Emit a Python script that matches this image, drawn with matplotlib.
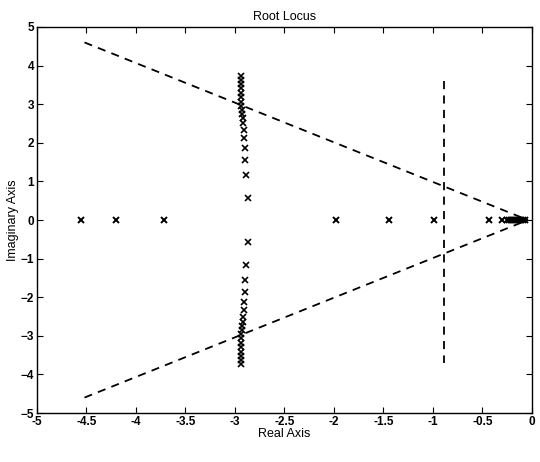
import matplotlib
matplotlib.use("Agg")
import matplotlib.pyplot as plt

plt.rcParams['font.family'] = ['Liberation Sans', 'DejaVu Sans']

# Real-axis roots
real_x = [-4.56, -4.20, -3.72, -1.98, -1.44, -0.99, -0.43, -0.30,
          -0.25, -0.23, -0.21, -0.19, -0.17, -0.15, -0.13, -0.11, -0.09, -0.07]
# Complex branch near Re = -2.9
branch_y = [3.73, 3.63, 3.52, 3.42, 3.29, 3.19, 3.06, 2.95, 2.85, 2.75,
            2.64, 2.51, 2.33, 2.12, 1.87, 1.55, 1.17, 0.57]
branch_x = [-2.94, -2.94, -2.94, -2.94, -2.94, -2.94, -2.94, -2.94, -2.93, -2.93,
            -2.92, -2.92, -2.91, -2.91, -2.90, -2.90, -2.89, -2.87]

# Asymptotes and vertical guide
asym_x = [-4.52, -0.04]
asym_upper_y = [4.6, 0.0]
asym_lower_y = [-4.6, 0.0]
guide_x = [-0.89, -0.89]
guide_y = [3.6, -3.7]

fig = plt.figure(figsize=(5.4, 4.62), dpi=100)
ax = fig.add_axes([0.0685, 0.106, 0.9165, 0.8356])

ax.plot(asym_x, asym_upper_y, 'k--', lw=1.3, dashes=(4.5, 3.5))
ax.plot(asym_x, asym_lower_y, 'k--', lw=1.3, dashes=(4.5, 3.5))
ax.plot(guide_x, guide_y, 'k--', lw=1.3, dashes=(4.5, 3.5))

ax.plot(real_x, [0] * len(real_x), 'kx', ms=5, mew=1.4)
ax.plot(branch_x, branch_y, 'kx', ms=5, mew=1.2)
ax.plot(branch_x, [-v for v in branch_y], 'kx', ms=5, mew=1.2)

ax.set_xlim(-5, 0)
ax.set_ylim(-5, 5)
ax.set_xticks([-5, -4.5, -4, -3.5, -3, -2.5, -2, -1.5, -1, -0.5, 0])
ax.set_xticklabels(['-5', '-4.5', '-4', '-3.5', '-3', '-2.5', '-2', '-1.5', '-1', '-0.5', '0'])
ax.set_yticks(range(-5, 6))
ax.tick_params(direction='in', top=True, right=True, labelsize=8.5, length=4, pad=2)
for lab in ax.get_xticklabels() + ax.get_yticklabels():
    lab.set_fontweight('bold')
for sp in ax.spines.values():
    sp.set_linewidth(1.0)

ax.set_xlabel('Real Axis', fontsize=9, labelpad=0)
ax.set_ylabel('Imaginary Axis', fontsize=9, labelpad=1)
ax.set_title('Root Locus', fontsize=9, pad=5)

fig.savefig('out.png', dpi=100)
